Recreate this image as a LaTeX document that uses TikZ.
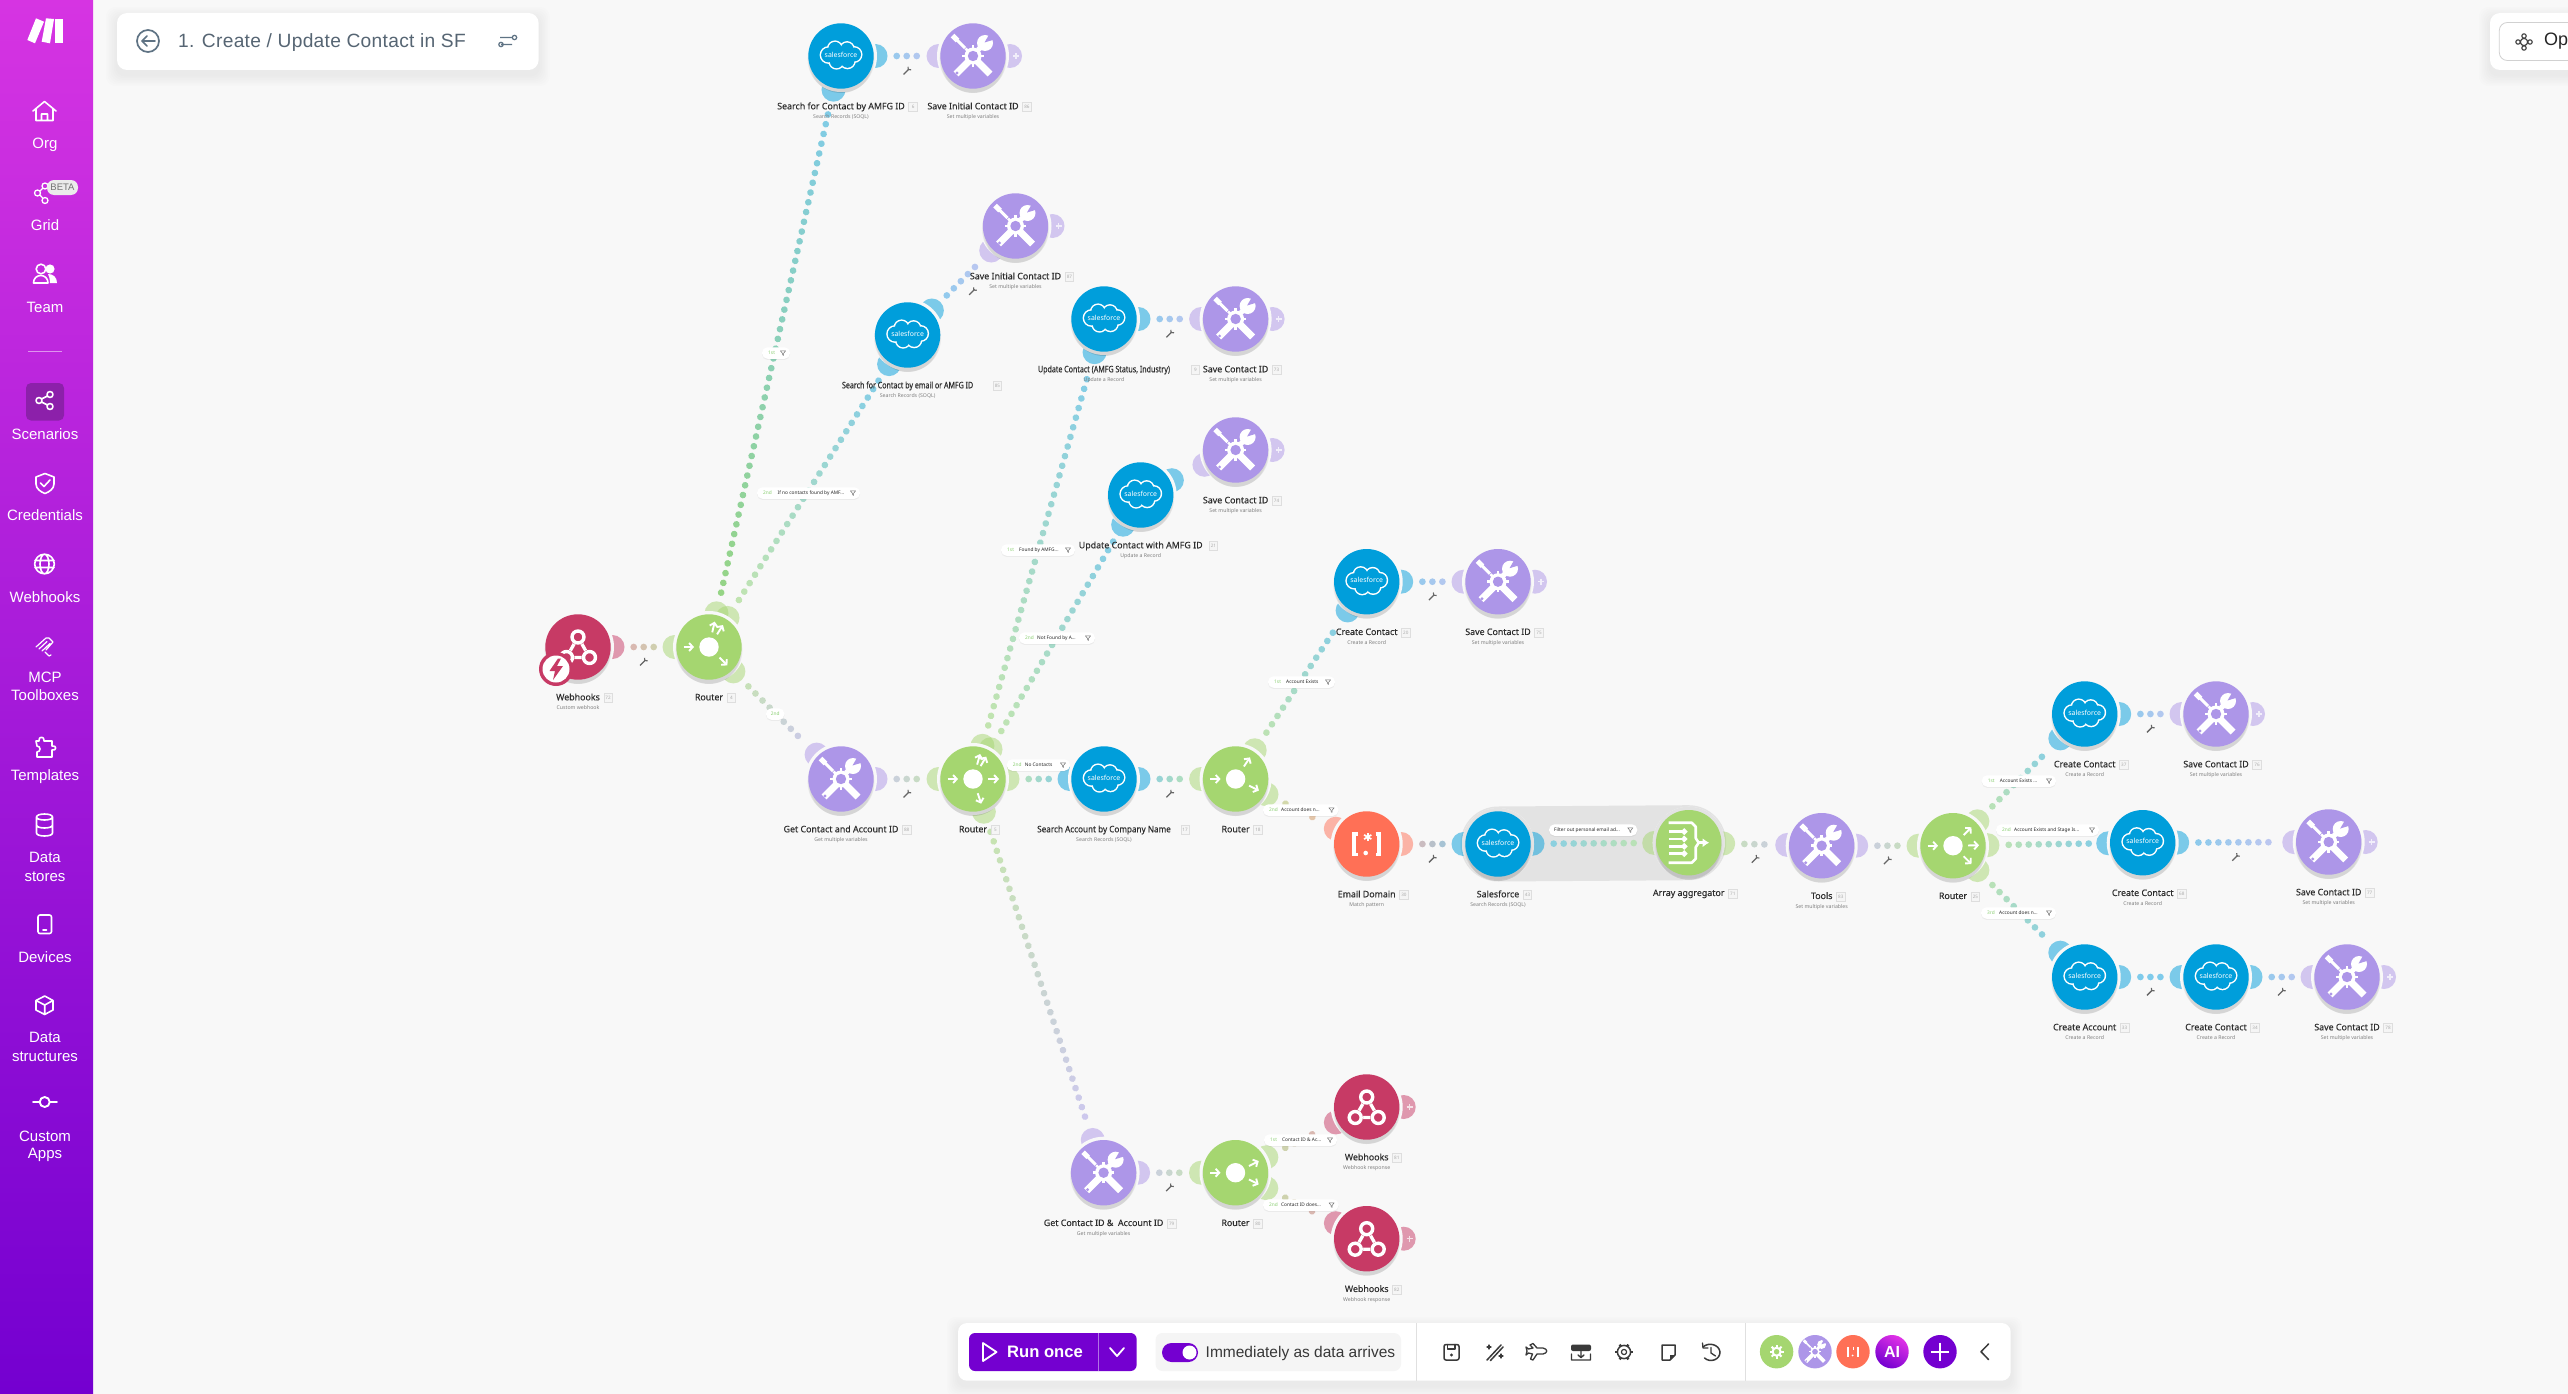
\documentclass[tikz,border=0pt]{standalone}
\usepackage{fontspec}
\setmainfont{Liberation Sans}
\newfontfamily\nfont{Noto Sans}
\newfontfamily\nfontm[FakeBold=0.3]{Noto Sans}
\newfontfamily\pfont[LetterSpace=1.5]{Liberation Sans}
\usetikzlibrary{calc,decorations.markings,arrows.meta,shadows}
\pgfdeclarelayer{base}\pgfdeclarelayer{ports}\pgfdeclarelayer{mask}\pgfdeclarelayer{links}
\pgfsetlayers{base,ports,mask,links,main}
\definecolor{canvasbg}{HTML}{F8F8F8}
\definecolor{sf}{HTML}{009EDB}
\definecolor{tool}{HTML}{AD96E8}
\definecolor{rt}{HTML}{A5D670}
\definecolor{rx}{HTML}{FF7056}
\definecolor{hk}{HTML}{C73A65}
\definecolor{sfD}{HTML}{7FCBEB}
\definecolor{toolD}{HTML}{CDC6F2}
\definecolor{rtD}{HTML}{C6E6AC}
\definecolor{rtS}{HTML}{97D582}
\definecolor{ordg}{HTML}{8ACF72}
\definecolor{rxD}{HTML}{F2B4A8}
\definecolor{hkD}{HTML}{E3A0B4}
\definecolor{brand}{HTML}{7400D0}
\definecolor{icondark}{HTML}{3A3A3A}
\definecolor{slatec}{HTML}{5F7384}
\definecolor{titlec}{HTML}{566573}
\tikzset{
  modc/.style={circle,inner sep=0pt,outer sep=0pt,minimum size=65.4pt},
  modtitle/.style={inner sep=0pt,text=black!82,text height=6.6pt,text depth=1.9pt,font=\nfontm\fontsize{8.85}{10}\selectfont},
  modsub/.style={inner sep=0pt,text=black!50,font=\nfont\fontsize{5.2}{6}\selectfont},
  idbox/.style={draw=black!13,fill=black!4,line width=.7pt,minimum size=8.5pt,inner sep=0pt,text=black!32,font=\nfont\fontsize{4.6}{5}\selectfont},
  pillbox/.style={fill=white,rounded corners=5.5pt,minimum height=11.5pt,inner sep=0pt,drop shadow={opacity=.10,shadow xshift=0pt,shadow yshift=-1.2pt}},
  pilltxt/.style={inner sep=0pt,text=black!85,font=\nfont\fontsize{4.8}{5}\selectfont},
  pillord/.style={inner sep=0pt,text=ordg,font=\nfont\fontsize{4.8}{5}\selectfont},
  sidetxt/.style={text=white,inner sep=0pt,font=\fontsize{15}{15}\selectfont},
  sideline/.style={draw=white,line width=1.6pt,line join=round,line cap=round},
  barline/.style={draw=icondark,line width=1.5pt,line join=round,line cap=round},
  dotlink/.style 2 args={decoration={markings,mark=between positions 23pt and -21pt step 10pt with {%
      \pgfmathsetmacro\pct{\pgfkeysvalueof{/pgf/decoration/mark info/distance from start}/\pgfdecoratedpathlength*100}%
      \fill[#2!\pct!#1] (0,0) circle[radius=3.35pt];}},decorate},
}
\newcommand{\softshadow}[5]{%
  \foreach \i in {1,...,7}{\fill[black,opacity=.009,rounded corners=#5pt] (#1-\i*1.6,#2-\i*1.6+5) rectangle (#3+\i*1.6,#4+\i*1.6+5);}}
% ---- icons, drawn round the origin of a scope
\newcommand{\itool}[1][1]{\begin{scope}[scale=#1]
  \draw[white,line width=#1*3pt] (-19,-19)--(-8,-8);
  \draw[white,line width=#1*5pt] (-20.5,-20.5)--(-15.5,-15.5);
  \draw[white,line width=#1*7pt] (4,5)--(17,18);
  \draw[white,line width=#1*7pt] (-4,5)--(-17,18);
  \fill[tool] (-16,17) circle[radius=1.6];
  \draw[white,line width=#1*5pt] (5,-6)--(10,-11);
  \fill[white] (12,-13) circle[radius=8];
  \fill[tool] (11.5,-13.5)--(17,-23)--(23,-17)--cycle;
  \foreach \a in {0,45,...,315}{\draw[white,line width=#1*2.6pt] (\a:7)--(\a:10.6);}
  \fill[white] (0,0) circle[radius=8.5];
  \fill[tool] (0,0) circle[radius=5.2];
\end{scope}}
\newcommand{\isf}{%
  \foreach \a/\b/\r in {-12.5/0/7.4,-6/-6.5/6.6,6/-6/6.4,13/-.5/7,6.5/6/6.8,-4.5/6.6/6.6}{\fill[white] (\a,\b-1) circle[radius=\r+1.5];}
  \foreach \a/\b/\r in {-12.5/0/7.4,-6/-6.5/6.6,6/-6/6.4,13/-.5/7,6.5/6/6.8,-4.5/6.6/6.6}{\fill[sf] (\a,\b-1) circle[radius=\r];}
  \fill[sf] (-11,-6) rectangle (11,5);
  \node (\cur-t) [inner sep=0pt,text=white,font=\nfont\fontsize{6.9}{7}\selectfont] at (0,-1.5) {salesforce};}
\newcommand{\irt}{%
  \fill[white] (0,0) circle[radius=9.7];
  \draw[white,line width=1.9pt,-{Straight Barb[length=3.6pt,width=8pt]}] (-25.5,0)--(-15,0);}
\newcommand{\ihook}{%
  \draw[white,line width=3.3pt] (0,-10)--(-11.5,10.5)--(11.5,10.5)--cycle;
  \foreach \a/\b in {0/-10,-11.5/10.5,11.5/10.5}{\fill[hk] (\a,\b) circle[radius=8];\draw[white,line width=3.4pt] (\a,\b) circle[radius=6];}}
\newcommand{\irx}{%
  \draw[white,line width=3.6pt] (-9,-10)--(-12.5,-10)--(-12.5,10.5)--(-9,10.5);
  \draw[white,line width=3.6pt] (9,-10)--(12.5,-10)--(12.5,10.5)--(9,10.5);
  \fill[white] (-1,9) circle[radius=2.3];
  \foreach \a in {0,60,120}{\draw[white,line width=1.7pt] ($(1,-7)+(\a+90:4.2)$)--($(1,-7)+(\a+270:4.2)$);}}
\newcommand{\iagg}{%
  \draw[white,line width=2.6pt,line join=round] (-20,-20)--(3,-20)--(7,-16)--(7,-4.5)--(10,0)--(7,4.5)--(7,16)--(3,20)--(-20,20);
  \foreach \b in {-11,-3.7,3.7,11}{\draw[white,line width=2.8pt,-{Straight Barb[length=2.5pt,width=5pt]}] (-20,\b)--(-1,\b);}
  \draw[white,line width=2.6pt,-{Latex[length=6.5pt,width=9pt]}] (9,0)--(20.5,0);}
% ---- module
\newcommand{\mmod}[9][3.5]{%
  \def\cur{#2}%
  \begin{pgfonlayer}{mask}\fill[canvasbg] (#3,#4) circle[radius=36];\end{pgfonlayer}%
  \foreach \d/\r/\o in {6/31/.035,5/32/.035,4/33/.035,3/33.6/.035}{\fill[black,opacity=\o] (#3,#4+\d) circle[radius=\r];}%
  \node (#2) [modc,fill=#5] at (#3,#4) {};%
  \begin{scope}[shift={(#3,#4)}]#6\end{scope}%
  \node (#2-title) [modtitle] at (#3,#4+50.9) {#7};%
  \node (#2-id) [idbox,anchor=west,xshift=#1pt] at (#2-title.east) {#9};%
  \if\relax\detokenize{#8}\relax\else\node (#2-sub) [modsub] at (#3,#4+61) {#8};\fi}
% ---- connectors: ports at both ends and graded dots from node to node
\newcommand{\mlink}[6]{%
  \begin{pgfonlayer}{ports}
    \fill[#3,opacity=.5] ($(#1)!34.5pt!(#2)$) circle[radius=12];
    \fill[#4,opacity=.5] ($(#2)!34.5pt!(#1)$) circle[radius=12];
  \end{pgfonlayer}
  \begin{pgfonlayer}{links}\path[dotlink={#5}{#6}] (#1) -- (#2);\end{pgfonlayer}}
\newcommand{\rarrow}[2]{\draw[white,line width=1.9pt,-{Straight Barb[length=3.6pt,width=8pt]}] ($(#1)!15pt!(#2)$)--($(#1)!26pt!(#2)$);}
\newcommand{\addport}[2]{%
  \begin{pgfonlayer}{ports}\fill[#2,opacity=.5] ($(#1)+(37,0)$) circle[radius=12];\end{pgfonlayer}
  \draw[white,opacity=.7,line width=1.1pt] ($(#1)+(40,0)$)--($(#1)+(46,0)$) ($(#1)+(43,-3)$)--($(#1)+(43,3)$);}
\newcommand{\smwrench}[4]{\begin{scope}[shift={($(#1)!.5!(#2)+(#3,#4)$)}]
  \draw[black!60,line width=1.25pt] (-3.4,3.4)--(2,-2);
  \draw[black!60,line width=1.1pt] (1,-4.2)--(1.3,-1.4)--(4.2,-1.2);
\end{scope}}
% ---- filter pills
\newcommand{\fpill}[6]{%
  \pgfmathsetmacro\pw{#3-#2}%
  \node (#1) [pillbox,minimum width=\pw pt] at ({(#2+#3)/2},#4) {};%
  \node (#1-o) [pillord,anchor=west] at (#2+6,#4) {#5};%
  \node (#1-t) [pilltxt,anchor=west] at (#2+18,#4) {#6};%
  \begin{scope}[shift={(#3-7,#4)}]\draw[black!55,line width=.5pt,line join=round] (-2.6,-2.2)--(2.6,-2.2)--(.5,.4)--(.5,2.4)--(-.5,1.8)--(-.5,.4)--cycle;\end{scope}}
\begin{document}
\begin{tikzpicture}[x=1pt,y=-1pt]
\useasboundingbox (0,0) rectangle (2568,1394);
\begin{pgfonlayer}{base}
\fill[canvasbg] (0,0) rectangle (2568,1394);
\shade[top color={rgb,255:red,214;green,52;blue,226},bottom color=brand] (0,0) rectangle (93,1394);
\end{pgfonlayer}
% ---------------- sidebar
\fill[white] (27.3,40)--(36,18.3)--(44,21.7)--(35,43.3)--cycle;
\fill[white] (46,18.3)--(54,19)--(50,43.3)--(41.7,41.7)--cycle;
\fill[white] (55,19) rectangle (62.7,43.3);
\draw[sideline] (33,111)--(44.5,101.5)--(56,111) (36,109)--(36,120.5)--(53,120.5)--(53,109) (41.5,120.5)--(41.5,114)--(47.5,114)--(47.5,120.5);
\node (sOrg) [sidetxt] at (45,145) {Org};
\draw[sideline,line width=1.3pt] (37.5,193) circle[radius=3] (45,186) circle[radius=3] (45,200.5) circle[radius=3] (40,191)--(43,188) (40,195)--(43,198.5);
\node (sBeta) [fill=black!8,text=black!55,rounded corners=7pt,minimum width=31pt,minimum height=15pt,inner sep=0pt,font=\fontsize{9.5}{10}\selectfont] at (62.5,187.5) {BETA};
\node (sGrid) [sidetxt] at (45,225.6) {Grid};
\draw[sideline] (41,269) circle[radius=4.8];
\fill[white] (50,269) circle[radius=4.6];
\draw[sideline] (33.5,283)..controls (33.5,273) and (48,273) .. (48,283)--cycle;
\fill[white] (48,274)..controls (53,274) and (57,277) .. (57,283)--(50,283)..controls (50,279) and (49,276) ..cycle;
\node (sTeam) [sidetxt] at (45,307.7) {Team};
\draw[white,opacity=.5,line width=.8pt] (28,351.3)--(62,351.3);
\fill[rounded corners=5pt,fill={rgb,255:red,140;green,32;blue,170}] (26,383) rectangle (64,420.5);
\draw[sideline,line width=1.6pt] (39,400.5) circle[radius=3] (50,394.5) circle[radius=3] (50,406.5) circle[radius=3] (41.5,399)--(47.5,396) (41.5,402)--(47.5,405);
\node (sScen) [sidetxt] at (45,434) {Scenarios};
\draw[sideline] (45,473.5)--(54,477)--(54,484)..controls (54,489) and (49,492) .. (45,493.5)..controls (41,492) and (36,489) .. (36,484)--(36,477)--cycle (40.5,483)--(44,486.5)--(50,480);
\node (sCred) [sidetxt] at (45,514.7) {Credentials};
\draw[sideline] (44.5,564) circle[radius=9.8] (44.5,564) ellipse[x radius=4.5,y radius=9.8] (35,560.5)--(54,560.5) (35,567.5)--(54,567.5);
\node (sWeb) [sidetxt] at (45,597) {Webhooks};
\draw[sideline,line width=1.2pt] (36,647)--(46,638)--(49,638)--(53,642)--(46,650) (39,649)--(47,641.5) (42,651)--(50,643.5) (45,652)--(49,656)--(51,655);
\node (sMcp1) [sidetxt] at (45,677) {MCP};
\node (sMcp2) [sidetxt] at (45,695) {Toolboxes};
\draw[sideline] (36,741)--(39,741)..controls (38,736) and (45,736) .. (44,741)--(52,741)--(52,746)..controls (57,745) and (57,751) .. (52,750)--(52,757)--(37,757)--(37,752)..controls (41,752) and (41,746) .. (37,746)--cycle;
\node (sTemp) [sidetxt] at (45,777) {Templates};
\draw[sideline] (36.5,817)..controls (36.5,813) and (52.5,813) .. (52.5,817)--(52.5,833)..controls (52.5,837) and (36.5,837) .. (36.5,833)--cycle (36.5,817)..controls (36.5,821) and (52.5,821) .. (52.5,817) (36.5,825)..controls (36.5,829) and (52.5,829) .. (52.5,825);
\node (sData1) [sidetxt] at (45,857) {Data};
\node (sData2) [sidetxt] at (45,877) {stores};
\draw[sideline,rounded corners=2pt] (38,915) rectangle (51.5,933.5);
\draw[sideline] (43,930)--(46.5,930);
\node (sDev) [sidetxt] at (45,957) {Devices};
\draw[sideline] (44.7,996)--(53,1000.5)--(53,1010)--(44.7,1014.5)--(36,1010)--(36,1000.5)--cycle (36,1000.5)--(44.7,1005)--(53,1000.5) (44.7,1005)--(44.7,1014.5);
\node (sDs1) [sidetxt] at (45,1037) {Data};
\node (sDs2) [sidetxt] at (45,1057) {structures};
\draw[sideline,line width=1.9pt] (44.7,1102) circle[radius=5] (33,1102)--(39.5,1102) (50,1102)--(57,1102);
\node (sCa1) [sidetxt] at (45,1136) {Custom};
\node (sCa2) [sidetxt] at (45,1155) {Apps};
% ---------------- top panels
\softshadow{117}{13}{538.6}{70}{10}
\fill[white,rounded corners=10pt] (117,13) rectangle (538.6,70);
\draw[slatec,line width=1.7pt] (148,41) circle[radius=11];
\draw[slatec,line width=1.7pt,line cap=round,line join=round] (155,41)--(142,41) (147,36)--(142,41)--(147,46);
\node (pTitle) [anchor=base west,inner sep=0pt,text=titlec,font=\pfont\fontsize{19.2}{20}\selectfont] at (178,47.5) {1. Create / Update Contact in SF};
\draw[slatec,line width=1.2pt] (500,37.5)--(511.5,37.5) (501,44.5)--(512,44.5) (514.5,37.5) circle[radius=2.2] (501,44.5) circle[radius=2.2];
\softshadow{2490}{13}{2620}{70}{10}
\fill[white,rounded corners=10pt] (2490,13) rectangle (2620,70);
\draw[black!18,line width=.8pt,rounded corners=8pt] (2499.3,22.5) rectangle (2620,60.5);
\draw[black!75,line width=1.1pt] (2524,36) circle[radius=2.2] (2524,48) circle[radius=2.2] (2518,42) circle[radius=2.2] (2530,42) circle[radius=2.2] (2524,42) circle[radius=3.6];
\node (pOpen) [anchor=west,inner sep=0pt,text=black!85,font=\fontsize{18}{18}\selectfont] at (2544,41.5) {Op};
% ---------------- grey group behind Salesforce and Array aggregator
\begin{pgfonlayer}{base}
\draw[black!11,line width=75pt,line cap=round] (1498,844)--(1688.7,842.7);
\end{pgfonlayer}
% ---------------- modules
\mmod{hook1}{578}{647}{hk}{\ihook}{Webhooks}{Custom webhook}{72}
\mmod{rA}{709}{647}{rt}{\irt}{Router}{}{4}
\mmod{sAMFG}{841}{56}{sf}{\isf}{Search for Contact by AMFG ID}{Search Records (SOQL)}{6}
\mmod{sv86}{973}{56}{tool}{\itool}{Save Initial Contact ID}{Set multiple variables}{86}
\mmod{sv87}{1015.5}{226}{tool}{\itool}{Save Initial Contact ID}{Set multiple variables}{87}
\mmod[19.5]{sMail}{907.6}{335}{sf}{\isf}{\scalebox{.8}[1]{Search for Contact by email or AMFG ID}}{Search Records (SOQL)}{85}
\mmod[20.5]{upd}{1104}{319}{sf}{\isf}{\scalebox{.8}[1]{Update Contact (AMFG Status, Industry)}}{Update a Record}{9}
\mmod{sv73}{1235.6}{319}{tool}{\itool}{Save Contact ID}{Set multiple variables}{73}
\mmod{sv74}{1235.6}{450}{tool}{\itool}{Save Contact ID}{Set multiple variables}{74}
\mmod[6]{updA}{1140.7}{495}{sf}{\isf}{Update Contact with AMFG ID}{Update a Record}{21}
\mmod{getC}{841}{779}{tool}{\itool}{Get Contact and Account ID}{Get multiple variables}{88}
\mmod{rB}{973}{779}{rt}{\irt}{Router}{}{5}
\mmod[9.5]{sAcc}{1104}{779}{sf}{\isf}{\scalebox{.92}[1]{Search Account by Company Name}}{Search Records (SOQL)}{17}
\mmod{rC}{1235.6}{779}{rt}{\irt}{Router}{}{18}
\mmod{cc20}{1366.7}{581.7}{sf}{\isf}{Create Contact}{Create a Record}{20}
\mmod{sv75}{1498}{581.7}{tool}{\itool}{Save Contact ID}{Set multiple variables}{75}
\mmod{mail}{1366.7}{844}{rx}{\irx}{Email Domain}{Match pattern}{30}
\mmod{sfQ}{1498}{844}{sf}{\isf}{Salesforce}{Search Records (SOQL)}{43}
\mmod{agg}{1688.7}{842.7}{rt}{\iagg}{Array aggregator}{}{71}
\mmod{tls}{1821.7}{845.7}{tool}{\itool}{Tools}{Set multiple variables}{83}
\mmod{rD}{1953}{845.7}{rt}{\irt}{Router}{}{25}
\mmod{cc37}{2084.7}{714}{sf}{\isf}{Create Contact}{Create a Record}{37}
\mmod{sv76}{2216}{714}{tool}{\itool}{Save Contact ID}{Set multiple variables}{76}
\mmod{cc68}{2142.7}{842.7}{sf}{\isf}{Create Contact}{Create a Record}{68}
\mmod{sv77}{2328.7}{842}{tool}{\itool}{Save Contact ID}{Set multiple variables}{77}
\mmod{cAcc}{2084.7}{977}{sf}{\isf}{Create Account}{Create a Record}{33}
\mmod{cc34}{2216}{977}{sf}{\isf}{Create Contact}{Create a Record}{34}
\mmod{sv78}{2347}{977}{tool}{\itool}{Save Contact ID}{Set multiple variables}{78}
\mmod{getI}{1103.6}{1172.7}{tool}{\itool}{Get Contact ID \&\ \ Account ID}{Get multiple variables}{79}
\mmod{rE}{1235.5}{1172.7}{rt}{\irt}{Router}{}{80}
\mmod{w81}{1366.7}{1107}{hk}{\ihook}{Webhooks}{Webhook response}{81}
\mmod{w82}{1366.7}{1238.7}{hk}{\ihook}{Webhooks}{Webhook response}{82}
\begin{pgfonlayer}{mask}
\fill[black!11] (sfQ) circle[radius=36];
\fill[black!11] (agg) circle[radius=36];
\end{pgfonlayer}
% trigger badge
\fill[hk] (556,669) circle[radius=17];
\fill[white] (556,669) circle[radius=13.5];
\fill[hk] (558,658.5)--(549.5,671)--(555,671)--(553,680)--(563,666)--(557,666)--(561,658.5)--cycle;
% ---------------- connectors
\mlink{hook1}{rA}{hk}{rt}{hkD}{rtD}
\mlink{rA}{sAMFG}{rt}{sf}{rtS}{sfD}\rarrow{rA}{sAMFG}
\mlink{rA}{sMail}{rt}{sf}{rtD}{sfD}\rarrow{rA}{sMail}
\mlink{rA}{getC}{rt}{tool}{rtD}{toolD}\rarrow{rA}{getC}
\mlink{sAMFG}{sv86}{sf}{tool}{sfD}{toolD}
\mlink{sMail}{sv87}{sf}{tool}{sfD}{toolD}
\mlink{upd}{sv73}{sf}{tool}{sfD}{toolD}
\mlink{updA}{sv74}{sf}{tool}{sfD}{toolD}
\mlink{getC}{rB}{tool}{rt}{toolD}{rtD}
\mlink{rB}{upd}{rt}{sf}{rtD}{sfD}\rarrow{rB}{upd}
\mlink{rB}{updA}{rt}{sf}{rtD}{sfD}\rarrow{rB}{updA}
\mlink{rB}{sAcc}{rt}{sf}{rtD}{sfD}\rarrow{rB}{sAcc}
\mlink{rB}{getI}{rt}{tool}{rtD}{toolD}\rarrow{rB}{getI}
\mlink{sAcc}{rC}{sf}{rt}{sfD}{rtD}
\mlink{rC}{cc20}{rt}{sf}{rtD}{sfD}\rarrow{rC}{cc20}
\mlink{rC}{mail}{rt}{rx}{rtD}{rxD}\rarrow{rC}{mail}
\mlink{cc20}{sv75}{sf}{tool}{sfD}{toolD}
\mlink{mail}{sfQ}{rx}{sf}{rxD}{sfD}
\mlink{sfQ}{agg}{sf}{rt}{sfD}{rtD}
\mlink{agg}{tls}{rt}{tool}{rtD}{toolD}
\mlink{tls}{rD}{tool}{rt}{toolD}{rtD}
\mlink{rD}{cc37}{rt}{sf}{rtD}{sfD}\rarrow{rD}{cc37}
\mlink{rD}{cc68}{rt}{sf}{rtD}{sfD}\rarrow{rD}{cc68}
\mlink{rD}{cAcc}{rt}{sf}{rtD}{sfD}\rarrow{rD}{cAcc}
\mlink{cc37}{sv76}{sf}{tool}{sfD}{toolD}
\mlink{cc68}{sv77}{sf}{tool}{sfD}{toolD}
\mlink{cAcc}{cc34}{sf}{sf}{sfD}{sfD}
\mlink{cc34}{sv78}{sf}{tool}{sfD}{toolD}
\mlink{getI}{rE}{tool}{rt}{toolD}{rtD}
\mlink{rE}{w81}{rt}{hk}{rtD}{hkD}\rarrow{rE}{w81}
\mlink{rE}{w82}{rt}{hk}{rtD}{hkD}\rarrow{rE}{w82}
\addport{sv86}{tool}\addport{sv87}{tool}\addport{sv73}{tool}\addport{sv74}{tool}\addport{sv75}{tool}
\addport{sv76}{tool}\addport{sv77}{tool}\addport{sv78}{tool}\addport{w81}{hk}\addport{w82}{hk}
% wrenches
\smwrench{hook1}{rA}{0}{15}
\smwrench{sAMFG}{sv86}{0}{15}
\smwrench{sMail}{sv87}{11}{11}
\smwrench{upd}{sv73}{0}{15}
\smwrench{getC}{rB}{0}{15}
\smwrench{sAcc}{rC}{0}{15}
\smwrench{cc20}{sv75}{0}{15}
\smwrench{mail}{sfQ}{0}{15}
\smwrench{agg}{tls}{0}{15}
\smwrench{tls}{rD}{0}{15}
\smwrench{cc37}{sv76}{0}{15}
\smwrench{cc68}{sv77}{0}{15}
\smwrench{cAcc}{cc34}{0}{15}
\smwrench{cc34}{sv78}{0}{15}
\smwrench{getI}{rE}{0}{15}
% ---------------- filter pills
\fpill{f1}{762}{790}{353}{1st}{}
\fpill{f2}{757}{860}{493}{2nd}{\ \ If no contacts found by AMF...}
\node (f3) [pillbox,minimum width=18.4pt,pillord] at (775.2,714) {2nd};
\fpill{f4}{1001}{1075}{550}{1st}{Found by AMFG...}
\fpill{f5}{1019}{1095}{638}{2nd}{Not Found by A...}
\fpill{f6}{1006.7}{1070}{765}{2nd}{No Contacts}
\fpill{f7}{1268}{1335}{682}{1st}{Account Exists}
\fpill{f8}{1263}{1338.5}{810}{2nd}{Account does n...}
\fpill{f9}{1549}{1637.3}{830}{}{}
\node (f9-x) [pilltxt,anchor=west] at (1554,830) {Filter out personal email ad...};
\fpill{f10}{1981.7}{2056}{781}{1st}{Account Exists ...}
\fpill{f11}{1996}{2099}{830}{2nd}{Account Exists and Stage Is...}
\fpill{f12}{1981}{2056}{913}{3rd}{Account does n...}
\fpill{f13}{1264}{1337}{1140}{1st}{Contact ID \& Ac...}
\fpill{f14}{1263}{1338.6}{1205}{2nd}{Contact ID does...}
% ---------------- bottom toolbar
\softshadow{958}{1323}{2010.7}{1380.7}{9}
\fill[white,rounded corners=9pt] (958,1323) rectangle (2010.7,1380.7);
\fill[brand,rounded corners=6pt] (969,1333) rectangle (1136.6,1371);
\draw[white,opacity=.45,line width=.7pt] (1098,1333)--(1098,1371);
\draw[white,line width=1.8pt,line join=round] (983,1343)--(996.5,1352)--(983,1361)--cycle;
\node (bRun) [anchor=west,inner sep=0pt,text=white,font=\fontsize{16.6}{17}\selectfont\bfseries] at (1007,1352) {Run once};
\draw[white,line width=1.8pt,line cap=round,line join=round] (1110,1348)--(1117,1356)--(1124,1348);
\fill[black!4,rounded corners=7pt] (1155.5,1333) rectangle (1401,1371);
\fill[brand,rounded corners=9.5pt] (1162,1343) rectangle (1198,1362);
\fill[white] (1189.5,1352.5) circle[radius=7];
\node (bImm) [anchor=west,inner sep=0pt,text=black!78,font=\fontsize{15.5}{16}\selectfont] at (1205.5,1353) {Immediately as data arrives};
\draw[black!12,line width=1pt] (1416.5,1323)--(1416.5,1380.7) (1745,1323)--(1745,1380.7);
% toolbar glyphs
\draw[barline,rounded corners=2pt] (1444,1344.5) rectangle (1459,1360);
\draw[barline] (1447.5,1344.5)--(1447.5,1349)--(1455,1349)--(1455,1344.5);
\fill[icondark] (1451.5,1355) circle[radius=1.7];
\draw[barline] (1487,1360)--(1501,1345) (1490.5,1360.5)--(1503,1347);
\draw[barline,line width=1.1pt] (1487,1347) -- (1491,1347) (1489,1345)--(1489,1349) (1499,1356)--(1503,1356) (1501,1354)--(1501,1358);
\draw[barline,line width=1.3pt] (1530,1345)--(1533,1343.5)--(1537,1348)--(1543,1348)..controls (1548,1349) and (1548,1353) .. (1543,1354)--(1537,1354)--(1533,1360)--(1530.5,1359)--(1532.5,1354)--(1528.5,1353)--(1526,1355)--(1527,1351)--(1526,1347)--(1528.5,1349)--(1533,1348)--cycle;
\fill[icondark,rounded corners=2pt] (1571,1344.5) rectangle (1591,1351);
\draw[barline,line width=1.4pt] (1571.5,1354)--(1571.5,1360)--(1590.5,1360)--(1590.5,1354) (1581,1351)--(1581,1357) (1578,1355)--(1581,1357.5)--(1584,1355);
\foreach \a in {0,60,...,300}{\draw[icondark,line width=2.4pt] ($(1624,1352)+(\a:6)$)--($(1624,1352)+(\a:8.6)$);}
\draw[barline,fill=white] (1624,1352) circle[radius=6.6];
\draw[barline,line width=1.2pt] (1624,1352) circle[radius=2.6];
\draw[barline] (1662,1345)--(1675,1345)--(1675,1355)--(1670,1360)--(1662,1360)--cycle;
\fill[icondark] (1675,1355)--(1670,1360)--(1670,1355)--cycle;
\draw[barline] (1703,1347) .. controls (1708,1342) and (1719,1344) .. (1720,1352) .. controls (1720,1360) and (1710,1363) .. (1704.5,1358);
\draw[barline,line width=1.3pt] (1702.5,1343)--(1703,1348)--(1708,1348) (1711,1347.5)--(1711,1353)--(1715.5,1356);
% palette
\fill[rt] (1776.6,1351.7) circle[radius=16.7];
\foreach \a in {0,45,...,315}{\draw[white,line width=2pt] ($(1776.6,1351.7)+(\a:4)$)--($(1776.6,1351.7)+(\a:7)$);}
\draw[white,line width=2pt] (1776.6,1351.7) circle[radius=4];
\fill[tool] (1815,1351.7) circle[radius=16.7];
\begin{scope}[shift={(1815,1351.7)}]\itool[.55]\end{scope}
\fill[rx] (1853,1351.7) circle[radius=16.7];
\begin{scope}[shift={(1853,1351.7)},scale=.42]
\draw[white,line width=1.6pt] (-9,-10)--(-12.5,-10)--(-12.5,10.5)--(-9,10.5) (9,-10)--(12.5,-10)--(12.5,10.5)--(9,10.5);
\fill[white] (-1,9) circle[radius=2.3];
\draw[white,line width=1pt] (1,-12)--(1,-5);
\end{scope}
\shade[left color={rgb,255:red,225;green,50;blue,230},right color=brand,shading angle=-30] (1892,1351.7) circle[radius=16.7];
\node (bAI) [inner sep=0pt,text=white,font=\fontsize{16}{16}\selectfont\bfseries] at (1892,1351.7) {AI};
\fill[brand] (1940,1351.7) circle[radius=16.7];
\draw[white,line width=2pt] (1931,1351.7)--(1949,1351.7) (1940,1342.7)--(1940,1360.7);
\draw[icondark,line width=1.5pt,line join=round,line cap=round] (1988.5,1344)--(1981,1351.7)--(1988.5,1359.5);
\end{tikzpicture}
\end{document}
